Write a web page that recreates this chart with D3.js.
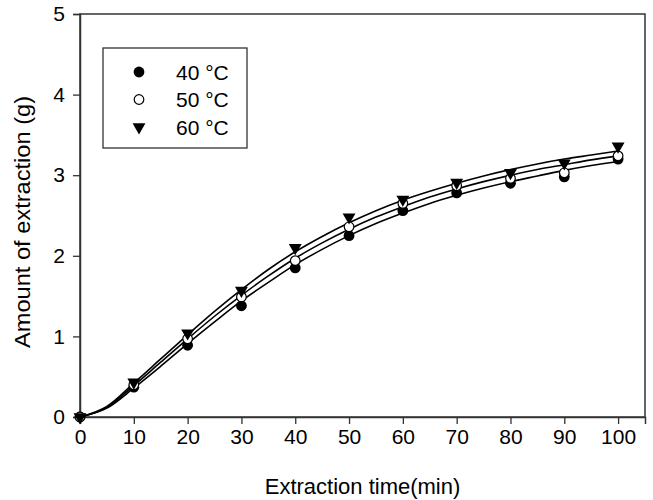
<!DOCTYPE html>
<html lang="en">
<head>
<meta charset="utf-8">
<title>Extraction</title>
<style>
  body { margin: 0; background: #fff; }
  svg text { font-family: "Liberation Sans", Arial, sans-serif; fill: #000; }
</style>
</head>
<body>
<svg id="chart"></svg>
<script src="https://d3js.org/d3.v7.min.js"></script>
<script>
// measured points
const times = [0, 10, 20, 30, 40, 50, 60, 70, 80, 90, 100];
const t40 = [0, 0.37, 0.89, 1.38, 1.85, 2.25, 2.56, 2.78, 2.90, 2.98, 3.20];
const t50 = [0, 0.40, 0.97, 1.49, 1.94, 2.36, 2.65, 2.87, 2.96, 3.03, 3.24];
const t60 = [0, 0.43, 1.04, 1.57, 2.10, 2.48, 2.70, 2.91, 3.03, 3.15, 3.36];

// fitted curves, read at every 5 min
const fitTimes = [0, 5, 10, 15, 20, 25, 30, 35, 40, 45, 50, 55, 60, 65, 70, 75, 80, 85, 90, 95, 100];
const fit40 = [0, 0.11, 0.36, 0.63, 0.91, 1.18, 1.44, 1.67, 1.89, 2.08, 2.25, 2.40, 2.53, 2.65, 2.75, 2.84, 2.92, 2.99, 3.06, 3.12, 3.17];
const fit50 = [0, 0.12, 0.39, 0.68, 0.97, 1.25, 1.51, 1.75, 1.97, 2.16, 2.33, 2.48, 2.61, 2.73, 2.83, 2.92, 3.00, 3.07, 3.13, 3.19, 3.24];
const fit60 = [0, 0.13, 0.42, 0.72, 1.02, 1.31, 1.58, 1.83, 2.05, 2.24, 2.41, 2.56, 2.69, 2.80, 2.90, 2.99, 3.07, 3.14, 3.20, 3.25, 3.30];

const xTicks = [0, 10, 20, 30, 40, 50, 60, 70, 80, 90, 100];
const yTicks = [0, 1, 2, 3, 4, 5];
const labels = ["40 \u00B0C", "50 \u00B0C", "60 \u00B0C"];

const W = 653, H = 500;
const m = {left: 80, right: 8, top: 14, bottom: 83};

const svg = d3.select("#chart").attr("width", W).attr("height", H);

const x = d3.scaleLinear().domain([0, 105]).range([m.left, W - m.right]);
const y = d3.scaleLinear().domain([0, 5]).range([H - m.bottom, m.top]);

// frame
svg.append("rect")
  .attr("x", x(0)).attr("y", y(5))
  .attr("width", x(105) - x(0)).attr("height", y(0) - y(5))
  .attr("fill", "none").attr("stroke", "#333").attr("stroke-width", 1.5);

const xAxis = svg.append("g")
  .attr("transform", "translate(0," + y(0) + ")")
  .call(d3.axisBottom(x).tickValues(xTicks).tickSize(7).tickPadding(5).tickFormat(d3.format("d")));
const yAxis = svg.append("g")
  .attr("transform", "translate(" + x(0) + ",0)")
  .call(d3.axisLeft(y).tickValues(yTicks).tickSize(7).tickPadding(8).tickFormat(d3.format("d")));

[xAxis, yAxis].forEach(a => {
  a.select(".domain").attr("stroke", "#333").attr("stroke-width", 1.5);
  a.selectAll(".tick line").attr("stroke", "#333").attr("stroke-width", 1.3);
  a.selectAll(".tick text").style("font-size", "21px").attr("fill", "#000")
    .style("font-family", "Liberation Sans, Arial, sans-serif");
});

// axis titles
svg.append("text")
  .attr("x", x(52.5)).attr("y", 494)
  .attr("text-anchor", "middle").style("font-size", "22px")
  .text("Extraction time(min)");
svg.append("text")
  .attr("transform", "translate(30,222) rotate(-90)")
  .attr("text-anchor", "middle").style("font-size", "22px")
  .attr("textLength", 252).attr("lengthAdjust", "spacingAndGlyphs")
  .text("Amount of extraction (g)");

// fitted lines
const line = d3.line()
  .x((d, i) => x(fitTimes[i]))
  .y(d => y(d))
  .curve(d3.curveMonotoneX);
[fit40, fit50, fit60].forEach(f => {
  svg.append("path").datum(f)
    .attr("d", line)
    .attr("fill", "none").attr("stroke", "#000").attr("stroke-width", 1.6);
});

const tri = d3.symbol().type(d3.symbolTriangle).size(72);

// markers: 40 filled, 50 open, 60 down-triangle
svg.append("g").selectAll("circle").data(t40).join("circle")
  .attr("cx", (d, i) => x(times[i])).attr("cy", d => y(d))
  .attr("r", 5.4).attr("fill", "#000");
svg.append("g").selectAll("circle").data(t50).join("circle")
  .attr("cx", (d, i) => x(times[i])).attr("cy", d => y(d))
  .attr("r", 4.8).attr("fill", "#fff").attr("stroke", "#000").attr("stroke-width", 1.2);
svg.append("g").selectAll("path").data(t60).join("path")
  .attr("d", tri)
  .attr("transform", (d, i) => "translate(" + x(times[i]) + "," + y(d) + ") rotate(180)")
  .attr("fill", "#000");

// legend
const lg = svg.append("g");
lg.append("rect")
  .attr("x", 103).attr("y", 48).attr("width", 144).attr("height", 100)
  .attr("fill", "#fff").attr("stroke", "#333").attr("stroke-width", 1.3);
const rows = [72, 99.5, 127];
lg.append("circle").attr("cx", 139).attr("cy", rows[0]).attr("r", 5.4).attr("fill", "#000");
lg.append("circle").attr("cx", 139).attr("cy", rows[1]).attr("r", 4.8)
  .attr("fill", "#fff").attr("stroke", "#000").attr("stroke-width", 1.2);
lg.append("path").attr("d", tri)
  .attr("transform", "translate(139," + rows[2] + ") rotate(180)").attr("fill", "#000");
lg.selectAll("text").data(labels).join("text")
  .attr("x", 176).attr("y", (d, i) => rows[i] + 7.5)
  .style("font-size", "21px")
  .text(d => d);
</script>
</body>
</html>
